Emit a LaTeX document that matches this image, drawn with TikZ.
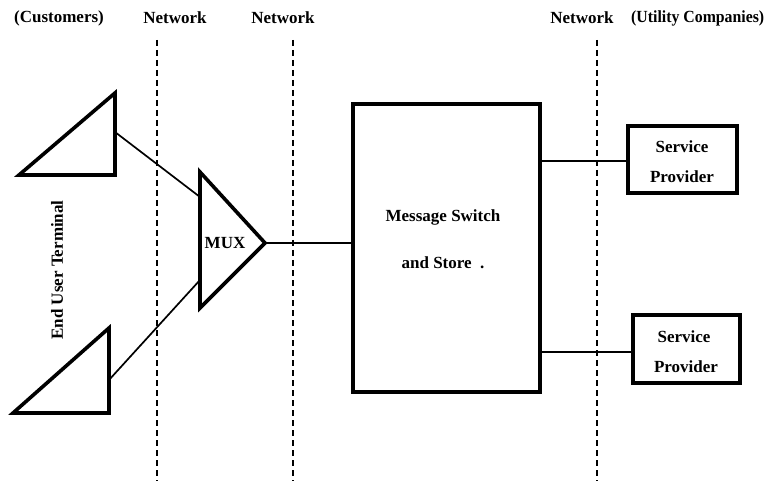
\documentclass[tikz,border=0pt]{standalone}
\usepackage{fontspec}
\setmainfont{Liberation Serif}
\begin{document}
\begin{tikzpicture}[x=1pt,y=-1pt,
  lbl/.style={font=\bfseries\fontsize{17}{20}\selectfont, inner sep=0pt},
  thick line/.style={line width=3.6pt, line join=miter},
  wire/.style={line width=1.7pt},
  divider/.style={line width=2.2pt, dash pattern=on 6pt off 4pt},
  boxnode/.style={draw, line width=3.6pt, rectangle, inner sep=0pt}]
\useasboundingbox (0,0) rectangle (771,481);
\fill[white] (0,0) rectangle (771,481);

% column headings
\node[lbl] (hcust) at (59,18) {(Customers)};
\node[lbl] (hnet1) at (175,18) {Network};
\node[lbl] (hnet2) at (283,18) {Network};
\node[lbl] (hnet3) at (582,18) {Network};
\node[lbl, anchor=west, xscale=0.93] (hutil) at (631,18) {(Utility Companies)};

% network boundaries
\coordinate (d1t) at (157,40); \coordinate (d1b) at (157,481);
\coordinate (d2t) at (293,40); \coordinate (d2b) at (293,481);
\coordinate (d3t) at (597,40); \coordinate (d3b) at (597,481);
\draw[divider] (d1t) -- (d1b);
\draw[divider] (d2t) -- (d2b);
\draw[divider] (d3t) -- (d3b);

% end user terminals
\draw[thick line] (19,175) -- (115,93) -- (115,175) -- cycle;
\draw[thick line] (13,413) -- (109,328) -- (109,413) -- cycle;
\coordinate (t1) at (115,132);
\coordinate (t2) at (109,380);
\node[lbl, rotate=90] (eut) at (57,270) {End User Terminal};

% multiplexer
\draw[thick line] (200,172) -- (265,243) -- (200,308) -- cycle;
\coordinate (muxin1) at (200,197);
\coordinate (muxin2) at (200,280);
\coordinate (muxout) at (265,243);
\node[lbl] (mux) at (225,243) {MUX};

% message switch
\node[boxnode, minimum width=187pt, minimum height=288pt] (msw) at (446.5,248) {};
\node[lbl] (msw1) at (443,217) {Message Switch};
\node[lbl] (msw2) at (443,263) {and Store\ \ .};

% service providers
\node[boxnode, minimum width=109pt, minimum height=67pt] (sp1) at (682.5,159.5) {};
\node[lbl] at (682,147) {Service};
\node[lbl] at (682,177) {Provider};
\node[boxnode, minimum width=107pt, minimum height=68pt] (sp2) at (686.5,349) {};
\node[lbl] at (684,337) {Service};
\node[lbl] at (686,367) {Provider};

% connections
\draw[wire] (t1) -- (muxin1);
\draw[wire] (t2) -- (muxin2);
\draw[wire] (muxout) -- (msw.west |- muxout);
\draw[wire] (msw.east |- 0,161) -- (sp1.west |- 0,161);
\draw[wire] (msw.east |- 0,352) -- (sp2.west |- 0,352);
\end{tikzpicture}
\end{document}
